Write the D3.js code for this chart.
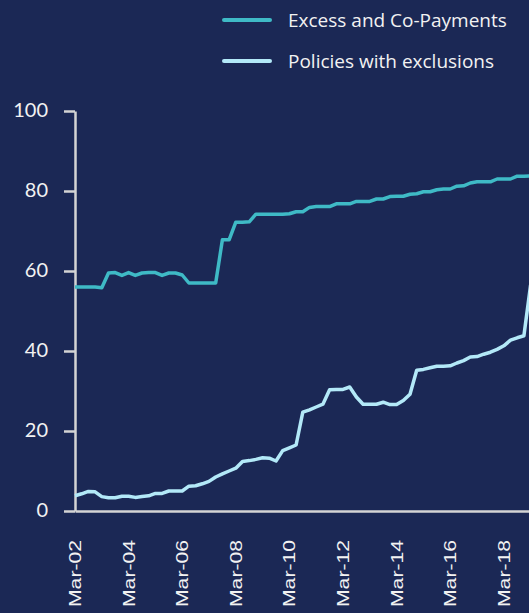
<!DOCTYPE html>
<html>
<head>
<meta charset="utf-8">
<script src="https://cdn.jsdelivr.net/npm/d3@7"></script>
<style>
  body { margin: 0; background: #1b2855; }
  svg { display: block; }
</style>
</head>
<body>
<div class="chart"></div>
<script>
// quarterly categories Mar-02 .. Mar-19
var months = ["Mar", "Jun", "Sep", "Dec"];
var quarters = [];
for (var yr = 2; yr <= 18; yr++) {
  months.forEach(function (m) {
    quarters.push(m + "-" + (yr < 10 ? "0" + yr : "" + yr));
  });
}
quarters.push("Mar-19");

var xTickLabels = ["Mar-02", "Mar-04", "Mar-06", "Mar-08", "Mar-10", "Mar-12", "Mar-14", "Mar-16", "Mar-18"];
var yTickValues = [0, 20, 40, 60, 80, 100];

var seriesNames = ["Excess and Co-Payments", "Policies with exclusions"];

var excessValues = [
  56, 56, 56, 56, 55.8, 59.5, 59.6, 58.9, 59.6, 58.9,
  59.5, 59.6, 59.6, 58.9, 59.5, 59.5, 59, 57, 57, 57,
  57, 57, 67.8, 67.8, 72.2, 72.2, 72.3, 74.2, 74.2, 74.2,
  74.2, 74.2, 74.3, 74.8, 74.8, 75.9, 76.1, 76.1, 76.1, 76.8,
  76.8, 76.8, 77.4, 77.4, 77.4, 78, 78, 78.6, 78.7, 78.7,
  79.2, 79.3, 79.8, 79.8, 80.3, 80.5, 80.5, 81.2, 81.3, 82,
  82.3, 82.3, 82.3, 83, 83, 83, 83.7, 83.7, 83.8
];

var exclusionValues = [
  3.8, 4.3, 4.9, 4.8, 3.6, 3.3, 3.3, 3.7, 3.7, 3.4,
  3.6, 3.8, 4.4, 4.4, 5, 5, 5, 6.2, 6.3, 6.8,
  7.4, 8.5, 9.3, 10, 10.7, 12.4, 12.6, 12.9, 13.3, 13.2,
  12.5, 15.1, 15.8, 16.5, 24.7, 25.3, 26, 26.7, 30.3, 30.4,
  30.4, 31, 28.5, 26.7, 26.7, 26.7, 27.2, 26.6, 26.6, 27.6,
  29.2, 35.2, 35.4, 35.8, 36.2, 36.2, 36.3, 37, 37.6, 38.5,
  38.6, 39.2, 39.7, 40.4, 41.3, 42.7, 43.3, 43.8, 56.5
];

var width = 529, height = 613;
var bg = "#1b2855";
var colors = ["#3fbac6", "#b3e9f8"];
var axisColor = "#d4d4d4";
var textColor = "#f2f2f2";

var svg = d3
  .select(".chart")
  .append("svg")
  .attr("width", width)
  .attr("height", height);

svg.append("rect").attr("width", width).attr("height", height).attr("fill", bg);

var x = d3.scalePoint().domain(quarters).range([75, 75 + (quarters.length - 1) * 6.7]);
var y = d3.scaleLinear().domain([0, 100]).range([511, 111]);

// y axis
var yAxis = svg
  .append("g")
  .attr("transform", "translate(75,0)")
  .call(d3.axisLeft(y).tickValues(yTickValues).tickSize(11).tickSizeOuter(0).tickPadding(16));
yAxis.select(".domain").attr("stroke", axisColor).attr("stroke-width", 2.5);
yAxis.selectAll(".tick line").attr("stroke", axisColor).attr("stroke-width", 2.5);
yAxis
  .selectAll(".tick text")
  .attr("fill", textColor)
  .attr("dy", "0.28em")
  .style("font-family", "Lato, 'Open Sans', sans-serif")
  .style("font-size", "20px");

// x axis
var xAxis = svg
  .append("g")
  .attr("transform", "translate(0,511)")
  .call(d3.axisBottom(x).tickValues(xTickLabels).tickSize(0).tickSizeOuter(0).tickFormat(""));
xAxis.select(".domain").attr("stroke", axisColor).attr("stroke-width", 2.5);

svg
  .append("g")
  .selectAll("text")
  .data(xTickLabels)
  .enter()
  .append("text")
  .attr("transform", function (d) {
    return "translate(" + x(d) + ",540) rotate(-90)";
  })
  .attr("text-anchor", "end")
  .attr("dy", "0.35em")
  .attr("fill", textColor)
  .attr("textLength", 67)
  .attr("lengthAdjust", "spacingAndGlyphs")
  .style("font-family", "'Liberation Sans', Arial, sans-serif")
  .style("font-size", "17px")
  .text(function (d) {
    return d;
  });

// lines
var line = d3
  .line()
  .x(function (d, i) {
    return x(quarters[i]);
  })
  .y(function (d) {
    return y(d);
  });

[excessValues, exclusionValues].forEach(function (vals, k) {
  svg
    .append("path")
    .datum(vals)
    .attr("d", line)
    .attr("fill", "none")
    .attr("stroke", colors[k])
    .attr("stroke-width", 3.5)
    .attr("stroke-linejoin", "round");
});

// legend
var legend = svg
  .selectAll(".legend")
  .data(seriesNames)
  .enter()
  .append("g")
  .attr("class", "legend")
  .attr("transform", function (d, i) {
    return "translate(0," + (20 + i * 41) + ")";
  });

legend
  .append("line")
  .attr("x1", 224)
  .attr("x2", 270)
  .attr("stroke", function (d, i) {
    return colors[i];
  })
  .attr("stroke-width", 4)
  .attr("stroke-linecap", "round");

legend
  .append("text")
  .attr("x", 288)
  .attr("y", 7)
  .attr("fill", textColor)
  .style("font-family", "'Open Sans', Lato, sans-serif")
  .style("font-size", "19px")
  .text(function (d) {
    return d;
  });
</script>
</body>
</html>
